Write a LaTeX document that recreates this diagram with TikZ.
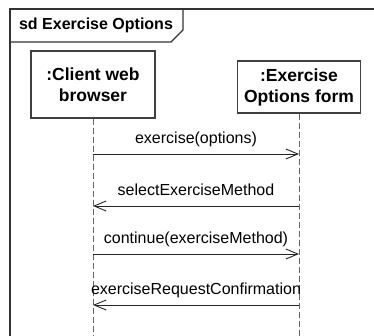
\documentclass[tikz,border=0pt]{standalone}
\usepackage{fontspec}
\setmainfont{Liberation Sans}
\usetikzlibrary{arrows.meta}

\tikzset{
  framestyle/.style={draw=black!80, line width=1.3pt},
  lifebox/.style={draw=black!75, line width=1.2pt, fill=white, align=center,
    font=\fontsize{17.5}{21}\selectfont\bfseries, inner sep=0pt},
  lifeline/.style={draw=black!60, line width=0.8pt, dash pattern=on 6pt off 3pt},
  msg/.style={draw=black!85, line width=0.9pt, -{Straight Barb[length=12pt,width=10pt]}},
  msglabel/.style={font=\fontsize{16}{19}\selectfont, text depth=0pt, inner sep=0pt, above=10pt}
}

\begin{document}
\begin{tikzpicture}
[x=1pt, y=1pt]
\useasboundingbox (0,0) rectangle (374,-336);

% frame and title tab
\draw [framestyle] (10,-336) -- (10,-9) -- (374,-9);
\draw [framestyle] (10,-42) -- (171,-42) -- (183,-30) -- (183,-9);
\node (title) [font=\fontsize{16}{19}\selectfont\bfseries, inner sep=0pt] at (96,-25) {sd Exercise Options};

% participants
\node (client) [lifebox, minimum width=124pt, minimum height=67pt] at (93,-84.5) {:Client web\\browser};
\node (form) [lifebox, minimum width=123pt, minimum height=52pt] at (299,-87) {:Exercise\\Options form};

% lifelines
\coordinate (clientend) at (93,-336);
\coordinate (formend) at (299,-336);
\draw [lifeline] (client.south) -- (clientend);
\draw [lifeline] (form.south) -- (formend);

% message points
\coordinate (c1) at (93,-154);
\coordinate (f1) at (299,-154);
\coordinate (c2) at (93,-206);
\coordinate (f2) at (299,-206);
\coordinate (c3) at (93,-254);
\coordinate (f3) at (299,-254);
\coordinate (c4) at (93,-305);
\coordinate (f4) at (299,-305);

\draw [msg] (c1) -- node [msglabel] {exercise(options)} (f1);
\draw [msg] (f2) -- node [msglabel] {selectExerciseMethod} (c2);
\draw [msg] (c3) -- node [msglabel] {continue(exerciseMethod)} (f3);
\draw [msg] (f4) -- node [msglabel] {exerciseRequestConfirmation} (c4);

\end{tikzpicture}
\end{document}
